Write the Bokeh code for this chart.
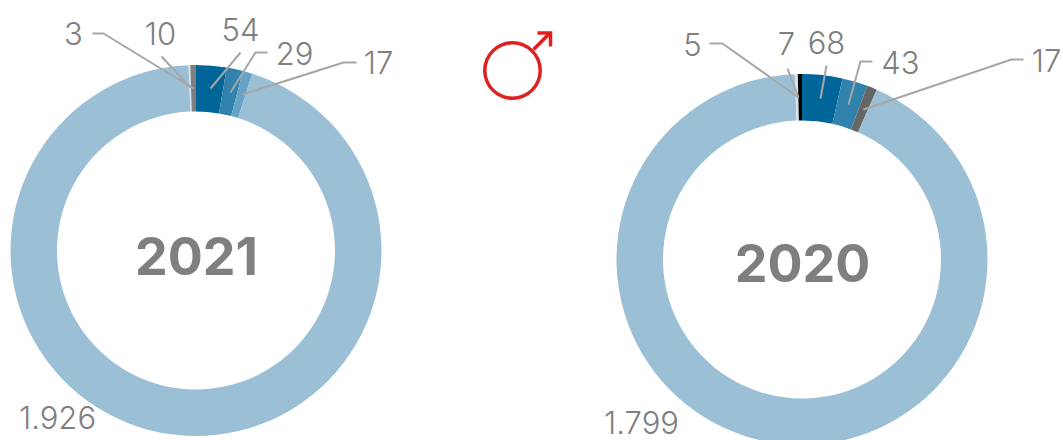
from math import pi
from bokeh.plotting import figure
from bokeh.models import Range1d
from bokeh.core.properties import value
from bokeh.embed import file_html
from bokeh.resources import INLINE

W, H = 1063, 440
vals_2021 = [54, 29, 17, 1926, 3, 10]
cols_2021 = ["#006699", "#3282ae", "#66a3c7", "#9bc0d6", "#d5e3ec", "#7f7f7f"]
vals_2020 = [68, 43, 17, 1799, 5, 7]
cols_2020 = ["#006699", "#3282ae", "#666666", "#9bc0d6", "#d5e3ec", "#000000"]
labels_2021 = ["54", "29", "17", "1.926", "3", "10"]
labels_2020 = ["68", "43", "17", "1.799", "5", "7"]

def X(px): return px
def Y(py): return H - py

p = figure(width=W, height=H, x_range=Range1d(0, W), y_range=Range1d(0, H),
           output_backend="svg", toolbar_location=None, min_border=0,
           outline_line_color=None)
p.axis.visible = False
p.grid.visible = False

def donut(cx, cy, vals, cols):
    total = sum(vals)
    a, starts, ends = 0.0, [], []
    for v in vals:
        starts.append(pi / 2 - a)
        a += v / total * 2 * pi
        ends.append(pi / 2 - a)
    p.annular_wedge(x=[X(cx - 0.5)] * len(vals), y=[Y(cy)] * len(vals),
                    inner_radius=139, outer_radius=185.5,
                    start_angle=starts, end_angle=ends, direction="clock",
                    fill_color=cols, line_color=None)

donut(196, 250, vals_2021, cols_2021)
donut(802, 259, vals_2020, cols_2020)

leaders = [
    [(92, 33), (103, 33), (193, 88)],
    [(161, 56), (190, 87)],
    [(240, 52), (210, 88)],
    [(267, 52), (255, 52), (230, 92)],
    [(356, 62), (343, 62), (242, 94)],
    [(709, 43), (722, 43), (798, 97)],
    [(787, 68), (798, 97)],
    [(826, 65), (820, 98)],
    [(872, 61), (860, 61), (848, 104)],
    [(1023, 59), (1011, 59), (863, 109)],
]
p.multi_line([[X(a) for a, _ in l] for l in leaders],
             [[Y(b) for _, b in l] for l in leaders],
             line_color="#a6a6a6", line_width=2)

label_pos_2021 = [(240, 29), (294, 53), (378, 62), (57, 417), (73, 33), (160, 33)]
label_pos_2020 = [(826, 42), (900, 62), (1046, 60), (641, 422), (692, 44), (786, 43)]
txt = labels_2021 + labels_2020
pos = label_pos_2021 + label_pos_2020
p.text([X(a) for a, _ in pos], [Y(b) for _, b in pos], text=txt,
       text_font=value("Inter Light"), text_font_size="31px", text_color="#808080",
       text_align="center", text_baseline="middle")

p.text([X(196), X(802)], [Y(255), Y(262)], text=["2021", "2020"],
       text_font=value("Inter"), text_font_style="bold", text_font_size="52px",
       text_color="#7f7f7f", text_align="center", text_baseline="middle")

# male symbol
red = "#e02020"
p.annulus(x=[X(512)], y=[Y(70)], inner_radius=26, outer_radius=29.5,
          fill_color=red, line_color=None)
p.line([X(533), X(549)], [Y(49), Y(33)], line_color=red, line_width=3.5)
p.line([X(537), X(550), X(550)], [Y(32.5), Y(32.5), Y(46)], line_color=red,
       line_width=3.5, line_join="miter")

open("out.html", "w").write(file_html(p, INLINE))
